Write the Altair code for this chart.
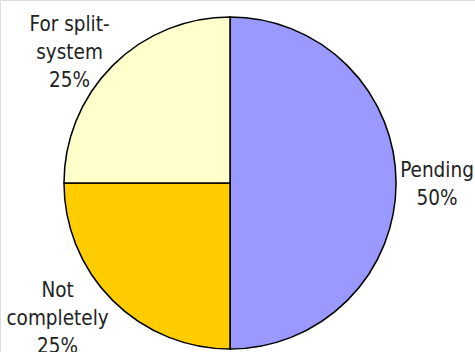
import altair as alt
import pandas as pd

# Status breakdown, drawn clockwise from 12 o'clock
categories = ["Pending", "Not completely", "For split-system"]
shares = [50, 25, 25]
label_words = [["Pending"], ["Not", "completely"], ["For split-", "system"]]
colors = ["#9999FF", "#FFCC00", "#FFFFCC"]

# Nudges applied to each label from its slice's mid-angle anchor (pixels)
label_nudge = {
    "Pending": (7, -12),
    "Not completely": (-31, -33),
    "For split-system": (-19, -17),
}

df = pd.DataFrame({
    "category": categories,
    "share": shares,
    "rank": list(range(len(categories))),
    "label": [words + [f"{s}%"] for words, s in zip(label_words, shares)],
})

base = alt.Chart(df).encode(
    theta=alt.Theta("share:Q", stack=True),
    order=alt.Order("rank:Q"),
    x=alt.value(230),
    y=alt.value(183),
)

pie = base.mark_arc(outerRadius=166, stroke="black", strokeWidth=1.5).encode(
    color=alt.Color(
        "category:N",
        scale=alt.Scale(domain=categories, range=colors),
        legend=None,
    )
)

label_layers = []
for cat in categories:
    ndx, ndy = label_nudge[cat]
    label_layers.append(
        base.mark_text(
            radius=200,
            dx=ndx,
            dy=ndy,
            font="DejaVu Sans Condensed, DejaVu Sans",
            fontSize=20.5,
            lineHeight=28,
            align="center",
            baseline="middle",
            color="#222222",
        ).encode(
            text="label",
            opacity=alt.condition(alt.datum.category == cat, alt.value(1), alt.value(0)),
        )
    )

chart = (
    alt.layer(pie, *label_layers)
    .properties(width=475, height=352, padding=0, autosize=alt.AutoSizeParams(type="none"))
    .configure_view(stroke=None)
    .configure(background="white")
)

chart.save("out.html", embed_options={"renderer": "svg", "actions": False})
